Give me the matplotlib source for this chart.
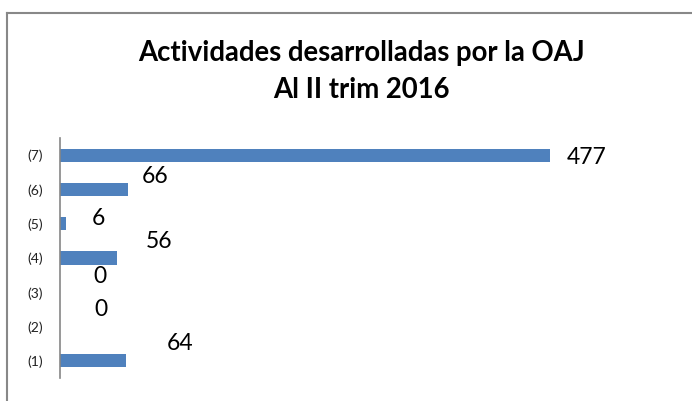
import matplotlib
matplotlib.use("Agg")
import matplotlib.pyplot as plt
from matplotlib.lines import Line2D

categories = ["(1)", "(2)", "(3)", "(4)", "(5)", "(6)", "(7)"]
values = [64, 0, 0, 56, 6, 66, 477]
# label offsets (pixels) from bar end — layout only
label_offsets = [(54, 17), (41, 17), (40, 16), (42, 17), (32, 5), (27, 13), (37, -2)]

plt.rcParams['font.family'] = ['Lato', 'DejaVu Sans']

W, H = 692, 401
fig = plt.figure(figsize=(W / 100, H / 100), dpi=100)
fig.patch.set_facecolor('white')

ax = fig.add_axes([60 / W, 1 - 378 / H, (676 - 60) / W, (378 - 138) / H])
ypos = list(range(len(categories)))
ax.barh(ypos, values, height=0.38, color='#4F81BD')
ax.set_xlim(0, 600)
ax.set_ylim(-0.5, 6.5)
ax.set_yticks(ypos)
ax.set_yticklabels(categories, fontsize=10, color='#222222')
ax.tick_params(axis='y', length=0, pad=12)
ax.set_xticks([])
for s in ['top', 'right', 'bottom']:
    ax.spines[s].set_visible(False)
ax.spines['left'].set_color('#868686')
ax.spines['left'].set_linewidth(1.2)

for y, v, (dx, dy) in zip(ypos, values, label_offsets):
    ax.annotate(str(v), xy=(v, y), xytext=(dx, dy), textcoords='offset pixels',
                ha='center', va='center', fontsize=16.5, color='black')

fig.text(361 / W, 1 - 61.5 / H, "Actividades desarrolladas por la OAJ",
         ha='center', va='baseline', fontsize=19.8, fontweight='bold')
fig.text(361 / W, 1 - 98 / H, "Al II trim 2016",
         ha='center', va='baseline', fontsize=19.8, fontweight='bold')

# outer chart border (top and left visible)
fig.add_artist(Line2D([7 / W, 1.0], [1 - 13 / H, 1 - 13 / H], transform=fig.transFigure,
                      color='#888888', linewidth=1.5))
fig.add_artist(Line2D([7 / W, 7 / W], [0.0, 1 - 13 / H], transform=fig.transFigure,
                      color='#888888', linewidth=1.5))

fig.savefig("out.png", dpi=100)
